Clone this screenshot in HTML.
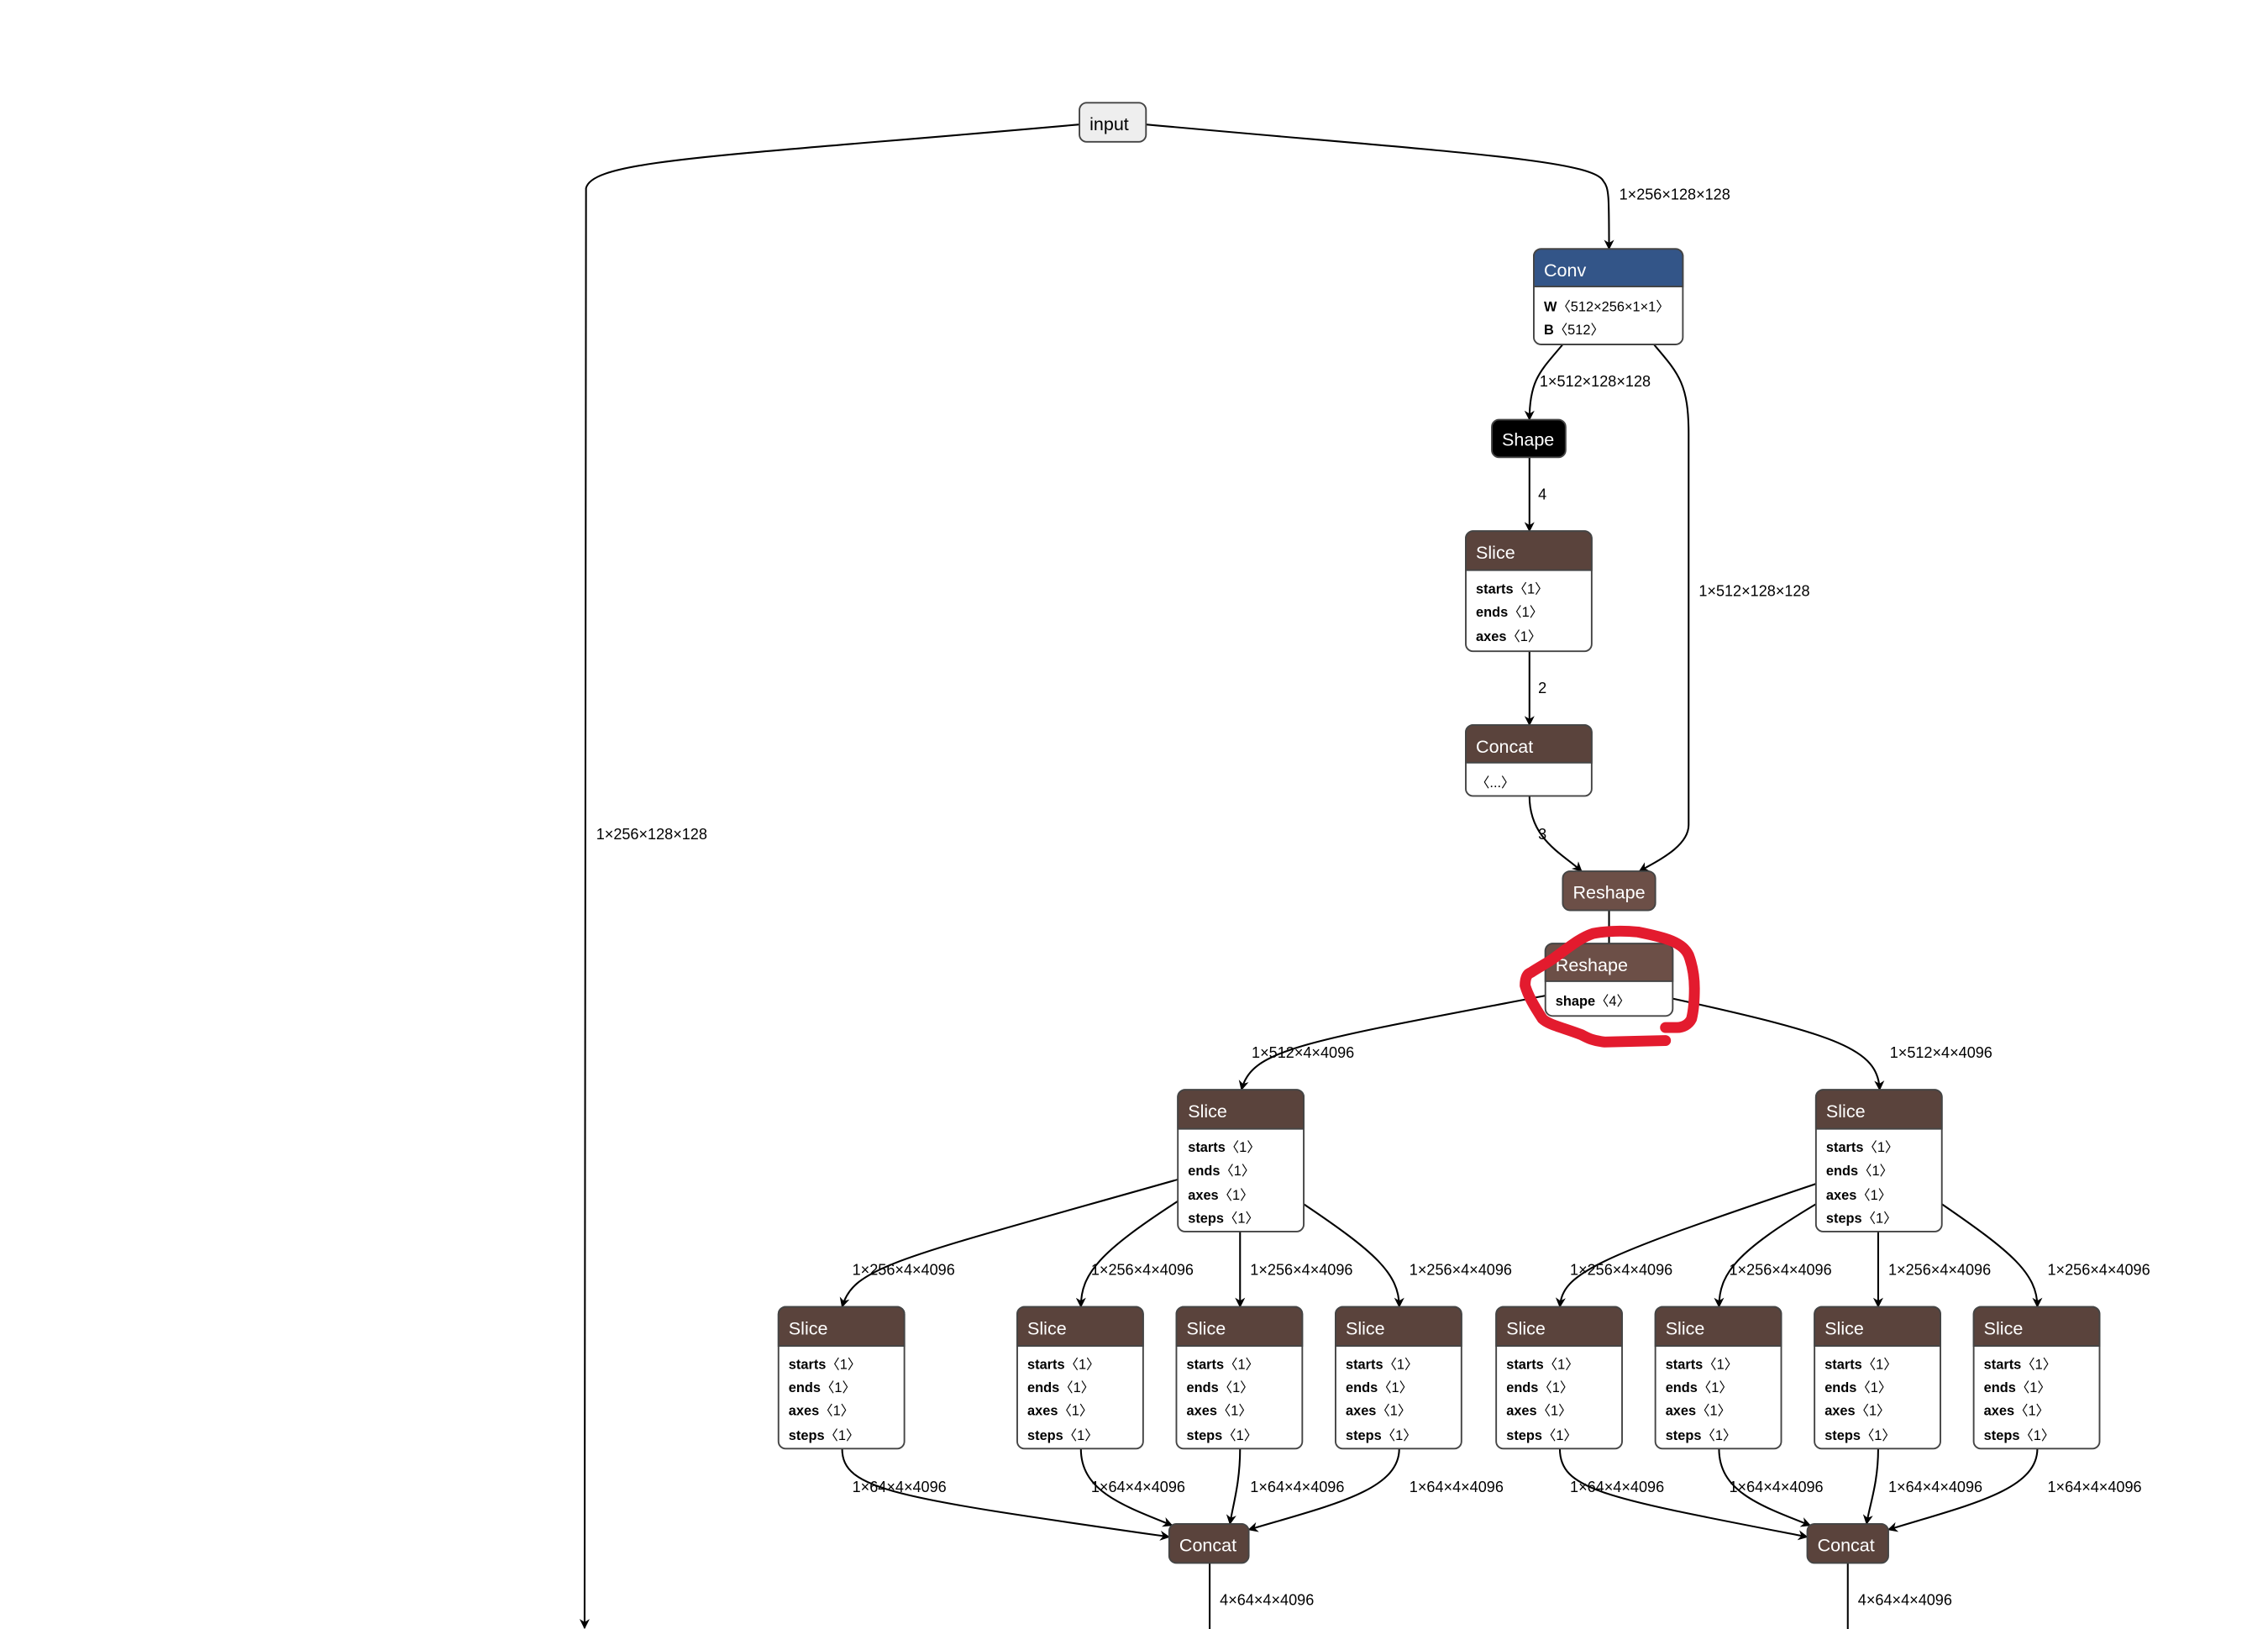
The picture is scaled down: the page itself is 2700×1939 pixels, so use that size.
<!DOCTYPE html>
<html><head><meta charset="utf-8"><style>
html,body{margin:0;padding:0;background:#fff;}
svg{display:block;font-family:"Liberation Sans",sans-serif;}
.h{fill:#fff;font-size:12.5px;}
.b{fill:#000;font-size:9.5px;}
.b tspan.k{font-weight:bold;}
.l{fill:#000;font-size:10.5px;}
.e{fill:none;stroke:#000;stroke-width:1.2;}
.box{fill:#fff;stroke:#444;stroke-width:1.1;}
.t{fill:#5a433c;}
</style></head><body>
<svg width="2700" height="1939" viewBox="0 0 1567.4 1125.6" xmlns="http://www.w3.org/2000/svg">
<defs><marker id="a" viewBox="0 0 10 10" refX="9" refY="5" markerWidth="7" markerHeight="7" orient="auto" markerUnits="userSpaceOnUse"><path d="M0,0 L10,5 L0,10 L3,5 z" fill="#000"/></marker></defs>

<!-- edges -->
<path class="e" d="M792,86 C1000,105 1100,110 1108,125 C1112,130 1112,135 1112,172" marker-end="url(#a)"/>
<path class="e" d="M746,86 C500,108 410,110 405,130 L404,1125" marker-end="url(#a)"/>
<path class="e" d="M1080,238 C1065,256 1057,262 1057,290" marker-end="url(#a)"/>
<path class="e" d="M1143,238 C1160,258 1167,265 1167,300 L1167,570 C1167,585 1145,595 1133,602" marker-end="url(#a)"/>
<path class="e" d="M1057,316 L1057,367" marker-end="url(#a)"/>
<path class="e" d="M1057,450 L1057,501" marker-end="url(#a)"/>
<path class="e" d="M1057,550 C1057,580 1080,590 1093,602" marker-end="url(#a)"/>
<path class="e" d="M1112,629 L1112,652"/>
<path class="e" d="M1068,688 C900,720 865,725 858,753" marker-end="url(#a)"/>
<path class="e" d="M1156,690 C1270,715 1298,725 1299,753" marker-end="url(#a)"/>

<path class="e" d="M814,815 C620,870 590,875 582,903" marker-end="url(#a)"/>
<path class="e" d="M814,830 C760,865 747,880 747,903" marker-end="url(#a)"/>
<path class="e" d="M857,851 L857,903" marker-end="url(#a)"/>
<path class="e" d="M901,832 C950,865 967,880 967,903" marker-end="url(#a)"/>
<path class="e" d="M1255,818 C1100,870 1080,880 1078,903" marker-end="url(#a)"/>
<path class="e" d="M1255,832 C1200,865 1188,880 1188,903" marker-end="url(#a)"/>
<path class="e" d="M1298,851 L1298,903" marker-end="url(#a)"/>
<path class="e" d="M1342,832 C1390,865 1408,880 1408,903" marker-end="url(#a)"/>

<path class="e" d="M582,1001 C582,1030 620,1035 808,1062" marker-end="url(#a)"/>
<path class="e" d="M747,1001 C747,1030 775,1040 810,1054" marker-end="url(#a)"/>
<path class="e" d="M857,1001 C857,1025 852,1040 850,1053" marker-end="url(#a)"/>
<path class="e" d="M967,1001 C967,1030 920,1040 863,1057" marker-end="url(#a)"/>
<path class="e" d="M1078,1001 C1078,1030 1110,1035 1249,1062" marker-end="url(#a)"/>
<path class="e" d="M1188,1001 C1188,1030 1215,1040 1251,1054" marker-end="url(#a)"/>
<path class="e" d="M1298,1001 C1298,1025 1292,1040 1290,1053" marker-end="url(#a)"/>
<path class="e" d="M1408,1001 C1408,1030 1360,1040 1305,1057" marker-end="url(#a)"/>
<path class="e" d="M836,1080 L836,1126"/>
<path class="e" d="M1277,1080 L1277,1126"/>

<!-- edge labels -->
<text class="l" x="1119" y="138">1×256×128×128</text>
<text class="l" x="412" y="580">1×256×128×128</text>
<text class="l" x="1064" y="267">1×512×128×128</text>
<text class="l" x="1174" y="412">1×512×128×128</text>
<text class="l" x="1063" y="345">4</text>
<text class="l" x="1063" y="479">2</text>
<text class="l" x="1063" y="580">3</text>
<text class="l" x="865" y="731">1×512×4×4096</text>
<text class="l" x="1306" y="731">1×512×4×4096</text>
<text class="l" x="589" y="881">1×256×4×4096</text>
<text class="l" x="754" y="881">1×256×4×4096</text>
<text class="l" x="864" y="881">1×256×4×4096</text>
<text class="l" x="974" y="881">1×256×4×4096</text>
<text class="l" x="1085" y="881">1×256×4×4096</text>
<text class="l" x="1195" y="881">1×256×4×4096</text>
<text class="l" x="1305" y="881">1×256×4×4096</text>
<text class="l" x="1415" y="881">1×256×4×4096</text>
<text class="l" x="589" y="1031">1×64×4×4096</text>
<text class="l" x="754" y="1031">1×64×4×4096</text>
<text class="l" x="864" y="1031">1×64×4×4096</text>
<text class="l" x="974" y="1031">1×64×4×4096</text>
<text class="l" x="1085" y="1031">1×64×4×4096</text>
<text class="l" x="1195" y="1031">1×64×4×4096</text>
<text class="l" x="1305" y="1031">1×64×4×4096</text>
<text class="l" x="1415" y="1031">1×64×4×4096</text>
<text class="l" x="843" y="1109">4×64×4×4096</text>
<text class="l" x="1284" y="1109">4×64×4×4096</text>

<!-- input -->
<rect x="746" y="71" width="46" height="27" rx="5" fill="#eee" stroke="#444" stroke-width="1.1"/>
<text x="753" y="90" style="font-size:12.5px">input</text>

<!-- Conv -->
<rect class="box" x="1060" y="172" width="103" height="66" rx="5"/>
<path d="M1060,177 a5,5 0 0 1 5,-5 h93 a5,5 0 0 1 5,5 v21 h-103 z" fill="#335588" stroke="#444" stroke-width="1.1"/>
<text class="h" x="1067" y="191">Conv</text>
<text class="b" x="1067" y="215"><tspan class="k">W</tspan>〈512×256×1×1〉</text>
<text class="b" x="1067" y="231"><tspan class="k">B</tspan>〈512〉</text>

<!-- Shape -->
<rect x="1031" y="290" width="51" height="26" rx="5" fill="#000" stroke="#444" stroke-width="1.1"/>
<text class="h" x="1038" y="308">Shape</text>

<!-- Slice top -->
<rect class="box" x="1013" y="367" width="87" height="83" rx="5"/>
<path d="M1013,372 a5,5 0 0 1 5,-5 h77 a5,5 0 0 1 5,5 v22 h-87 z" class="t" stroke="#444" stroke-width="1.1"/>
<text class="h" x="1020" y="386">Slice</text>
<text class="b" x="1020" y="410"><tspan class="k">starts</tspan>〈1〉</text>
<text class="b" x="1020" y="426"><tspan class="k">ends</tspan>〈1〉</text>
<text class="b" x="1020" y="443"><tspan class="k">axes</tspan>〈1〉</text>

<!-- Concat top -->
<rect class="box" x="1013" y="501" width="87" height="49" rx="5"/>
<path d="M1013,506 a5,5 0 0 1 5,-5 h77 a5,5 0 0 1 5,5 v21 h-87 z" class="t" stroke="#444" stroke-width="1.1"/>
<text class="h" x="1020" y="520">Concat</text>
<text class="b" x="1020" y="544">〈...〉</text>

<!-- Reshape 1 -->
<rect x="1080" y="602" width="64" height="27" rx="5" fill="#6c4f47" stroke="#444" stroke-width="1.1"/>
<text class="h" x="1087" y="621">Reshape</text>

<!-- Reshape 2 -->
<rect class="box" x="1068" y="652" width="88" height="50" rx="5"/>
<path d="M1068,657 a5,5 0 0 1 5,-5 h78 a5,5 0 0 1 5,5 v21 h-88 z" fill="#6c4f47" stroke="#444" stroke-width="1.1"/>
<text class="h" x="1075" y="671">Reshape</text>
<text class="b" x="1075" y="695"><tspan class="k">shape</tspan>〈4〉</text>

<!-- Middle slices -->
<g>
<rect class="box" x="814" y="753" width="87" height="98" rx="5"/>
<path d="M814,758 a5,5 0 0 1 5,-5 h77 a5,5 0 0 1 5,5 v22 h-87 z" class="t" stroke="#444" stroke-width="1.1"/>
<text class="h" x="821" y="772">Slice</text>
<text class="b" x="821" y="796"><tspan class="k">starts</tspan>〈1〉</text>
<text class="b" x="821" y="812"><tspan class="k">ends</tspan>〈1〉</text>
<text class="b" x="821" y="829"><tspan class="k">axes</tspan>〈1〉</text>
<text class="b" x="821" y="845"><tspan class="k">steps</tspan>〈1〉</text>
</g>
<g>
<rect class="box" x="1255" y="753" width="87" height="98" rx="5"/>
<path d="M1255,758 a5,5 0 0 1 5,-5 h77 a5,5 0 0 1 5,5 v22 h-87 z" class="t" stroke="#444" stroke-width="1.1"/>
<text class="h" x="1262" y="772">Slice</text>
<text class="b" x="1262" y="796"><tspan class="k">starts</tspan>〈1〉</text>
<text class="b" x="1262" y="812"><tspan class="k">ends</tspan>〈1〉</text>
<text class="b" x="1262" y="829"><tspan class="k">axes</tspan>〈1〉</text>
<text class="b" x="1262" y="845"><tspan class="k">steps</tspan>〈1〉</text>
</g>

<!-- Bottom slices -->
<g id="s1">
<rect class="box" x="538" y="903" width="87" height="98" rx="5"/>
<path d="M538,908 a5,5 0 0 1 5,-5 h77 a5,5 0 0 1 5,5 v22 h-87 z" class="t" stroke="#444" stroke-width="1.1"/>
<text class="h" x="545" y="922">Slice</text>
<text class="b" x="545" y="946"><tspan class="k">starts</tspan>〈1〉</text>
<text class="b" x="545" y="962"><tspan class="k">ends</tspan>〈1〉</text>
<text class="b" x="545" y="978"><tspan class="k">axes</tspan>〈1〉</text>
<text class="b" x="545" y="995"><tspan class="k">steps</tspan>〈1〉</text>
</g>
<g transform="translate(165,0)">
<rect class="box" x="538" y="903" width="87" height="98" rx="5"/>
<path d="M538,908 a5,5 0 0 1 5,-5 h77 a5,5 0 0 1 5,5 v22 h-87 z" class="t" stroke="#444" stroke-width="1.1"/>
<text class="h" x="545" y="922">Slice</text>
<text class="b" x="545" y="946"><tspan class="k">starts</tspan>〈1〉</text>
<text class="b" x="545" y="962"><tspan class="k">ends</tspan>〈1〉</text>
<text class="b" x="545" y="978"><tspan class="k">axes</tspan>〈1〉</text>
<text class="b" x="545" y="995"><tspan class="k">steps</tspan>〈1〉</text>
</g>
<g transform="translate(275,0)">
<rect class="box" x="538" y="903" width="87" height="98" rx="5"/>
<path d="M538,908 a5,5 0 0 1 5,-5 h77 a5,5 0 0 1 5,5 v22 h-87 z" class="t" stroke="#444" stroke-width="1.1"/>
<text class="h" x="545" y="922">Slice</text>
<text class="b" x="545" y="946"><tspan class="k">starts</tspan>〈1〉</text>
<text class="b" x="545" y="962"><tspan class="k">ends</tspan>〈1〉</text>
<text class="b" x="545" y="978"><tspan class="k">axes</tspan>〈1〉</text>
<text class="b" x="545" y="995"><tspan class="k">steps</tspan>〈1〉</text>
</g>
<g transform="translate(385,0)">
<rect class="box" x="538" y="903" width="87" height="98" rx="5"/>
<path d="M538,908 a5,5 0 0 1 5,-5 h77 a5,5 0 0 1 5,5 v22 h-87 z" class="t" stroke="#444" stroke-width="1.1"/>
<text class="h" x="545" y="922">Slice</text>
<text class="b" x="545" y="946"><tspan class="k">starts</tspan>〈1〉</text>
<text class="b" x="545" y="962"><tspan class="k">ends</tspan>〈1〉</text>
<text class="b" x="545" y="978"><tspan class="k">axes</tspan>〈1〉</text>
<text class="b" x="545" y="995"><tspan class="k">steps</tspan>〈1〉</text>
</g>
<g transform="translate(496,0)">
<rect class="box" x="538" y="903" width="87" height="98" rx="5"/>
<path d="M538,908 a5,5 0 0 1 5,-5 h77 a5,5 0 0 1 5,5 v22 h-87 z" class="t" stroke="#444" stroke-width="1.1"/>
<text class="h" x="545" y="922">Slice</text>
<text class="b" x="545" y="946"><tspan class="k">starts</tspan>〈1〉</text>
<text class="b" x="545" y="962"><tspan class="k">ends</tspan>〈1〉</text>
<text class="b" x="545" y="978"><tspan class="k">axes</tspan>〈1〉</text>
<text class="b" x="545" y="995"><tspan class="k">steps</tspan>〈1〉</text>
</g>
<g transform="translate(606,0)">
<rect class="box" x="538" y="903" width="87" height="98" rx="5"/>
<path d="M538,908 a5,5 0 0 1 5,-5 h77 a5,5 0 0 1 5,5 v22 h-87 z" class="t" stroke="#444" stroke-width="1.1"/>
<text class="h" x="545" y="922">Slice</text>
<text class="b" x="545" y="946"><tspan class="k">starts</tspan>〈1〉</text>
<text class="b" x="545" y="962"><tspan class="k">ends</tspan>〈1〉</text>
<text class="b" x="545" y="978"><tspan class="k">axes</tspan>〈1〉</text>
<text class="b" x="545" y="995"><tspan class="k">steps</tspan>〈1〉</text>
</g>
<g transform="translate(716,0)">
<rect class="box" x="538" y="903" width="87" height="98" rx="5"/>
<path d="M538,908 a5,5 0 0 1 5,-5 h77 a5,5 0 0 1 5,5 v22 h-87 z" class="t" stroke="#444" stroke-width="1.1"/>
<text class="h" x="545" y="922">Slice</text>
<text class="b" x="545" y="946"><tspan class="k">starts</tspan>〈1〉</text>
<text class="b" x="545" y="962"><tspan class="k">ends</tspan>〈1〉</text>
<text class="b" x="545" y="978"><tspan class="k">axes</tspan>〈1〉</text>
<text class="b" x="545" y="995"><tspan class="k">steps</tspan>〈1〉</text>
</g>
<g transform="translate(826,0)">
<rect class="box" x="538" y="903" width="87" height="98" rx="5"/>
<path d="M538,908 a5,5 0 0 1 5,-5 h77 a5,5 0 0 1 5,5 v22 h-87 z" class="t" stroke="#444" stroke-width="1.1"/>
<text class="h" x="545" y="922">Slice</text>
<text class="b" x="545" y="946"><tspan class="k">starts</tspan>〈1〉</text>
<text class="b" x="545" y="962"><tspan class="k">ends</tspan>〈1〉</text>
<text class="b" x="545" y="978"><tspan class="k">axes</tspan>〈1〉</text>
<text class="b" x="545" y="995"><tspan class="k">steps</tspan>〈1〉</text>
</g>

<!-- Bottom concats -->
<rect x="808" y="1053" width="55" height="27" rx="5" class="t" stroke="#444" stroke-width="1.1"/>
<text class="h" x="815" y="1072">Concat</text>
<rect x="1249" y="1053" width="56" height="27" rx="5" class="t" stroke="#444" stroke-width="1.1"/>
<text class="h" x="1256" y="1072">Concat</text>

<!-- red annotation -->
<path d="M1151,719 L1109,720 C1100,719 1097,717 1093,715 C1080,710 1070,708 1066,704 C1060,695 1056,688 1054,681 C1054,676 1055,673 1058,672 C1064,668 1070,665 1074,662 C1085,654 1092,648 1101,645 C1112,643 1122,643 1132,644 C1142,646 1150,648 1155,650 C1162,653 1165,656 1167,660 C1170,668 1171,676 1171,683 C1171,692 1170,700 1169,704 C1167,708 1163,710 1159,710 L1151,710" fill="none" stroke="#e31b2e" stroke-width="7.5" stroke-linecap="round" stroke-linejoin="round"/>
</svg>
</body></html>
